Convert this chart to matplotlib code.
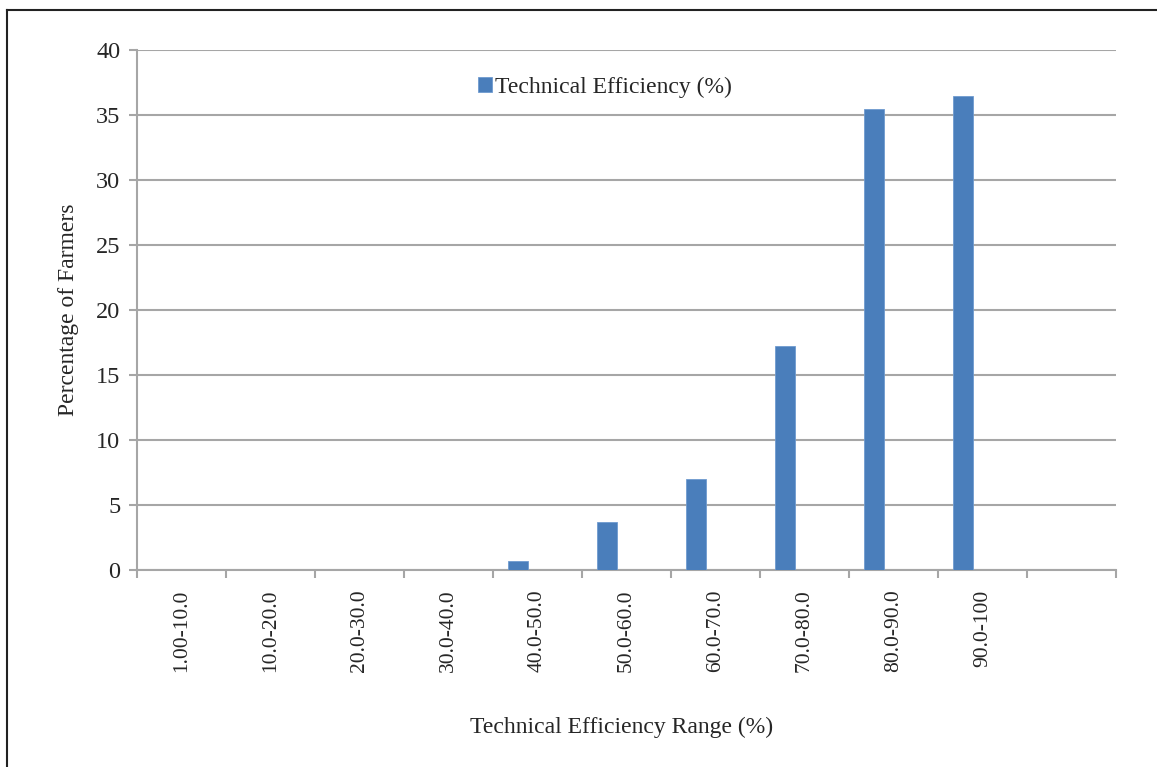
import matplotlib
matplotlib.use("Agg")
import matplotlib.pyplot as plt
import numpy as np
from matplotlib.lines import Line2D

ranges = ["1.00-10.0", "10.0-20.0", "20.0-30.0", "30.0-40.0", "40.0-50.0",
          "50.0-60.0", "60.0-70.0", "70.0-80.0", "80.0-90.0", "90.0-100", ""]
farmers_pct = [0, 0, 0, 0, 0.7, 3.7, 7.0, 17.25, 35.5, 36.5, 0]
series_name = "Technical Efficiency (%)"

plt.rcParams['font.family'] = ['Liberation Serif', 'DejaVu Serif']
grey = '#a6a6a6'
blue = '#4a7ebb'

fig = plt.figure(figsize=(11.57, 7.67), dpi=100)
ax = fig.add_axes([137 / 1157, 1 - 570 / 767, (1116 - 137) / 1157, (570 - 50) / 767])

x = np.arange(len(ranges))
ax.bar(x - 0.22, farmers_pct, width=0.225, color=blue, edgecolor='#6f9bd0',
       linewidth=0.6, label=series_name, zorder=3)

ax.set_xlim(-0.5, len(ranges) - 0.5)
ax.set_ylim(0, 40)
ax.set_yticks(np.arange(0, 41, 5))
ax.yaxis.grid(True, color=grey, linewidth=1.5, zorder=0)
ax.set_axisbelow(True)

ax.set_xticks(x)
ax.set_xticklabels(ranges, rotation=90, fontsize=15.5, color='#262626')
ax.set_xticks(np.arange(-0.5, len(ranges)), minor=True)
ax.tick_params(axis='x', which='major', length=0, pad=14)
ax.tick_params(axis='x', which='minor', length=6, width=1.5, color=grey)
ax.tick_params(axis='y', length=6, width=1.5, color=grey, labelsize=17.5,
               labelcolor='#262626', pad=6)

for s in ['top', 'right']:
    ax.spines[s].set_visible(False)
for s in ['left', 'bottom']:
    ax.spines[s].set_color(grey)
    ax.spines[s].set_linewidth(1.5)

ax.set_ylabel("Percentage of Farmers", fontsize=17, color='#262626', labelpad=12)
fig.text(622 / 1157, 1 - 727 / 767, "Technical Efficiency Range (%)",
         fontsize=17, color='#262626', ha='center', va='center')

ax.legend(loc='upper center', bbox_to_anchor=(0.478, 0.99), frameon=False,
          fontsize=17, handlelength=0.6, handleheight=0.6, handletextpad=0.15,
          labelcolor='#262626')

# outer frame (top and left edges only)
fig.add_artist(Line2D([7 / 1157, 7 / 1157], [0, 1 - 10 / 767], color='#222222',
                      linewidth=1.5, transform=fig.transFigure))
fig.add_artist(Line2D([7 / 1157, 1], [1 - 10 / 767, 1 - 10 / 767], color='#222222',
                      linewidth=1.5, transform=fig.transFigure))

fig.savefig("out.png", dpi=100)
